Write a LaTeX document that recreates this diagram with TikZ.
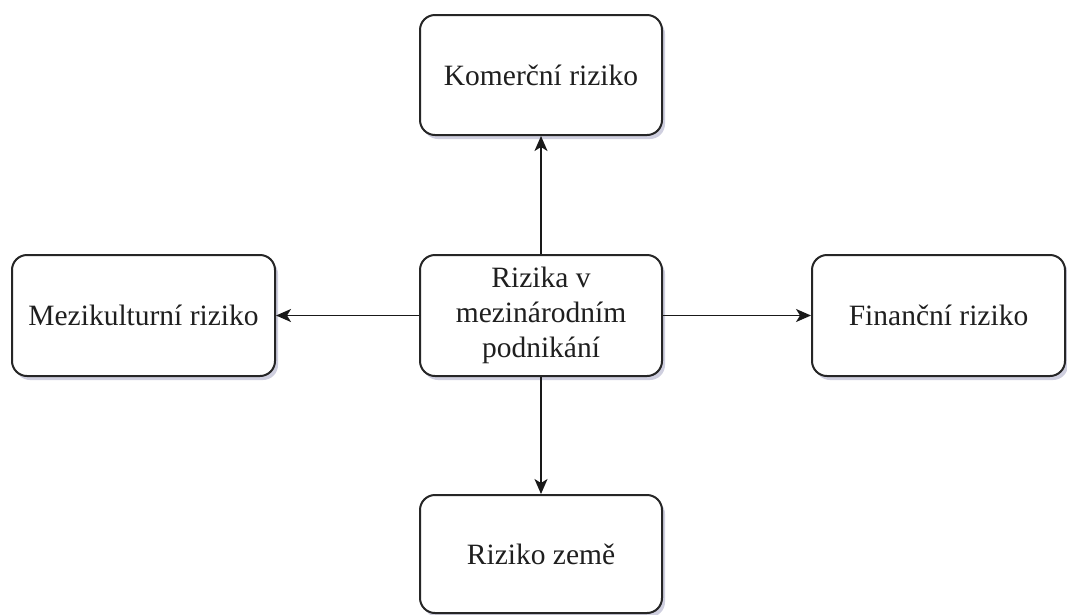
\documentclass[tikz,border=0pt]{standalone}
\usepackage{fontspec}
\setmainfont{Liberation Serif}
\usetikzlibrary{arrows.meta,shadows,positioning}
\begin{document}
\begin{tikzpicture}[x=1pt,y=-1pt,
  riskbox/.style={draw=black!85, line width=2pt, rounded corners=15pt, fill=white,
    drop shadow={shadow xshift=3pt, shadow yshift=-4pt, opacity=0.45, fill=blue!20!gray!70},
    align=center, inner sep=0pt, font=\fontsize{29.5}{35}\selectfont, text=black!88},
  link/.style={line width=1.7pt, draw=black!90, -{Stealth[length=15pt,width=13pt,inset=4pt]}}
]
\useasboundingbox (0,0) rectangle (1067,614);
% centre and the four surrounding risk boxes
\node[riskbox, minimum width=242pt, minimum height=121pt] (hub) at (541,315.5)
  {Rizika v\\mezinárodním\\podnikání};
\node[riskbox, minimum width=242pt, minimum height=120pt] (top) at (541,75)
  {Komerční riziko};
\node[riskbox, minimum width=263pt, minimum height=121pt] (left) at (143.5,315.5)
  {Mezikulturní riziko};
\node[riskbox, minimum width=253pt, minimum height=121pt] (right) at (938.5,315.5)
  {Finanční riziko};
\node[riskbox, minimum width=242pt, minimum height=118pt] (bottom) at (541,554)
  {Riziko země};
% connectors from the centre outwards
\draw[link] (hub.north) -- (top.south);
\draw[link] (hub.south) -- (bottom.north);
\draw[link] (hub.west) -- (left.east);
\draw[link] (hub.east) -- (right.west);
\end{tikzpicture}
\end{document}
